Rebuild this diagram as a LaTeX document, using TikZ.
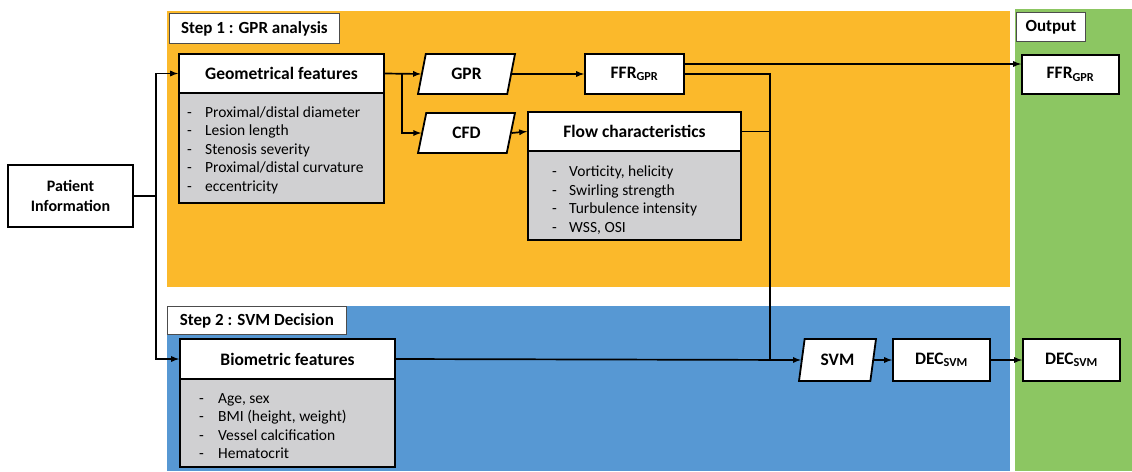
\documentclass[tikz,border=0pt]{standalone}
\usepackage{fontspec}
\setmainfont{Carlito}
\usetikzlibrary{shapes.geometric}
\definecolor{stepone}{RGB}{251,185,43}
\definecolor{steptwo}{RGB}{87,152,211}
\definecolor{outgreen}{RGB}{140,198,98}
\definecolor{listgray}{RGB}{208,208,210}

\begin{document}
\begin{tikzpicture}[x=1pt, y=-1pt,
	box_style/.style={draw, line width=1.8pt, fill=white, inner sep=0pt, font=\bfseries\fontsize{17.5}{19}\selectfont},
	list_style/.style={draw, line width=1.8pt, fill=listgray, inner sep=0pt},
	item_style/.style={anchor=west, inner sep=0pt, text height=10pt, text depth=3pt, font=\fontsize{15.5}{17}\selectfont},
	para_style/.style={box_style, trapezium, trapezium left angle=76, trapezium right angle=104, trapezium stretches=true},
	tag_style/.style={draw=black!70, line width=0.8pt, fill=white, anchor=north west, inner sep=0pt, font=\bfseries\fontsize{17}{19}\selectfont},
	line_style/.style={line width=1.7pt},
	edge_style/.style={line width=1.7pt, -latex}]

	\useasboundingbox (0,0) rectangle (1132,471);
	
	% panels
	\fill[stepone] (167,11) rectangle (1010,287);
	\fill[steptwo] (167,306) rectangle (1010,471);
	\fill[outgreen] (1015,9) rectangle (1132,471);
	\node[tag_style, minimum width=170pt, minimum height=30pt] (tag1) at (169,13) {Step 1 : GPR analysis\hspace{5pt}};
	\node[tag_style, minimum width=179pt, minimum height=28pt] (tag2) at (167,306) {Step 2 : SVM Decision\hspace{5pt}};
	\node[tag_style, minimum width=69pt, minimum height=29pt] (tag3) at (1016,12) {Output};
	
	% boxes
	\node[box_style, align=center, minimum width=125pt, minimum height=62pt, font=\bfseries\fontsize{16}{20}\selectfont] (pat) at (70.5,196) {Patient\\Information};
	
	\node[box_style, minimum width=205pt, minimum height=39pt] (geo) at (281.5,73.5) {Geometrical features};
	\node[list_style, minimum width=205pt, minimum height=110pt] (geolist) at (281.5,148) {};
	\foreach \t [count=\i] in {Proximal/distal diameter, Lesion length, Stenosis severity, Proximal/distal curvature, eccentricity}{
		\node[item_style] at (187,95+18.5*\i) {-};
		\node[item_style] at (205,95+18.5*\i) {\t};}
	
	\node[para_style, minimum width=97pt, minimum height=40pt] (gpr) at (466.5,74) {GPR};
	\node[para_style, minimum width=97pt, minimum height=40pt] (cfd) at (466.5,133) {CFD};
	\node[box_style, minimum width=99pt, minimum height=40pt] (ffr) at (634.5,74) {FFR\textsubscript{GPR}};
	
	\node[box_style, minimum width=213pt, minimum height=39pt] (flow) at (634.5,131.5) {Flow characteristics};
	\node[list_style, minimum width=213pt, minimum height=89pt] (flowlist) at (634.5,195.5) {};
	\foreach \t [count=\i] in {{Vorticity, helicity}, Swirling strength, Turbulence intensity, {WSS, OSI}}{
		\node[item_style] at (552,154.5+18.5*\i) {-};
		\node[item_style] at (569,154.5+18.5*\i) {\t};}
	
	\node[box_style, minimum width=215pt, minimum height=40pt] (bio) at (287.5,359) {Biometric features};
	\node[list_style, minimum width=215pt, minimum height=88pt] (biolist) at (287.5,423) {};
	\foreach \t [count=\i] in {{Age, sex}, {BMI (height, weight)}, Vessel calcification, Hematocrit}{
		\node[item_style] at (199,381+18.5*\i) {-};
		\node[item_style] at (218,381+18.5*\i) {\t};}
	
	\node[para_style, minimum width=77pt, minimum height=42pt] (svm) at (837.5,360) {SVM};
	\node[box_style, minimum width=97pt, minimum height=42pt] (dec) at (941.5,360) {DEC\textsubscript{SVM}};
	
	\node[box_style, minimum width=97pt, minimum height=39pt] (outffr) at (1070.5,74.5) {FFR\textsubscript{GPR}};
	\node[box_style, minimum width=97pt, minimum height=42pt] (outdec) at (1071.5,360) {DEC\textsubscript{SVM}};
	
	% connectors
	\coordinate (split) at (156,196);
	\coordinate (fork) at (402,74);
	\coordinate (merge) at (770,360);
	
	\draw[line_style] (pat.east) -- (split);
	\draw[edge_style] (split) |- (geo.west);
	\draw[edge_style] (split) |- (bio.west);
	\draw[edge_style] (geo.east) -- (gpr.west);
	\draw[edge_style] (fork) |- (cfd.west);
	\draw[edge_style] (gpr.east) -- (ffr.west);
	\draw[edge_style] (cfd.east) -- (flow.west);
	\draw[edge_style] ([yshift=10pt]ffr.east) -- ([yshift=10pt]ffr.east -| outffr.west);
	\draw[line_style] (ffr.east) -| (merge);
	\draw[line_style] (flow.east) -| (merge);
	\draw[edge_style] (bio.east) -- (svm.west);
	\draw[edge_style] (svm.east) -- (dec.west);
	\draw[edge_style] (dec.east) -- (outdec.west);
\end{tikzpicture}
\end{document}
